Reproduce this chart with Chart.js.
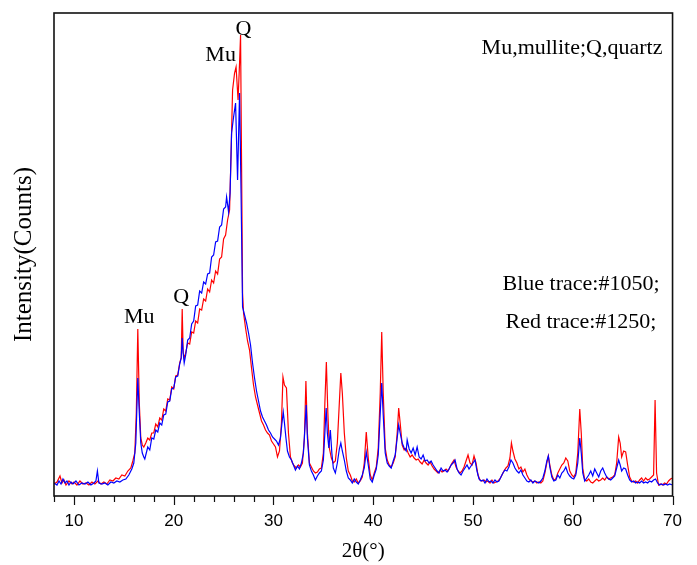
<!DOCTYPE html>
<html>
<head>
<meta charset="utf-8">
<title>XRD pattern</title>
<script src="https://cdn.jsdelivr.net/npm/chart.js@4.4.1/dist/chart.umd.min.js"></script>
<style>
  body { margin: 0; background: #fff; }
  #xrdChart { display: block; }
</style>
</head>
<body>
<canvas id="xrdChart" width="697" height="565"></canvas>
<script>
// 2theta (deg) and intensity
const redAngle = [
  8.0, 8.3, 8.6, 8.8, 9.0, 9.2, 9.5, 9.8, 10.0, 10.3,
  10.6, 10.9, 11.2, 11.5, 11.8, 12.1, 12.4, 12.7, 13.0, 13.3,
  13.6, 13.9, 14.2, 14.5, 14.8, 15.1, 15.4, 15.7, 15.9, 16.1,
  16.25, 16.4, 16.55, 16.7, 16.85, 17.0, 17.2, 17.4, 17.6, 17.8,
  18.0, 18.2, 18.4, 18.6, 18.8, 19.0, 19.2, 19.4, 19.6, 19.8,
  20.0, 20.2, 20.4, 20.6, 20.75, 20.85, 20.95, 21.05, 21.2, 21.4,
  21.6, 21.8, 22.0, 22.2, 22.4, 22.6, 22.8, 23.0, 23.2, 23.4,
  23.6, 23.8, 24.0, 24.2, 24.4, 24.6, 24.8, 25.0, 25.2, 25.4,
  25.6, 25.75, 25.9, 26.1, 26.25, 26.45, 26.6, 26.7, 26.8, 26.9,
  27.0, 27.2, 27.4, 27.6, 27.8, 28.0, 28.2, 28.4, 28.6, 28.8,
  29.0, 29.2, 29.4, 29.6, 29.8, 30.0, 30.2, 30.4, 30.6, 30.8,
  30.95, 31.1, 31.3, 31.5, 31.7, 31.9, 32.1, 32.3, 32.5, 32.7,
  32.9, 33.1, 33.25, 33.4, 33.6, 33.8, 34.0, 34.2, 34.4, 34.6,
  34.8, 35.0, 35.15, 35.3, 35.45, 35.6, 35.8, 36.0, 36.2, 36.4,
  36.6, 36.75, 36.9, 37.1, 37.3, 37.5, 37.7, 37.9, 38.1, 38.3,
  38.5, 38.7, 38.9, 39.1, 39.3, 39.5, 39.7, 39.9, 40.1, 40.3,
  40.5, 40.7, 40.85, 41.0, 41.2, 41.4, 41.6, 41.8, 42.0, 42.2,
  42.4, 42.55, 42.7, 42.9, 43.1, 43.3, 43.5, 43.7, 43.9, 44.1,
  44.3, 44.5, 44.7, 44.9, 45.1, 45.3, 45.5, 45.7, 45.9, 46.1,
  46.3, 46.5, 46.7, 46.9, 47.1, 47.3, 47.5, 47.7, 47.9, 48.1,
  48.3, 48.5, 48.7, 48.9, 49.1, 49.3, 49.5, 49.7, 49.9, 50.1,
  50.3, 50.5, 50.7, 50.9, 51.1, 51.3, 51.5, 51.7, 51.9, 52.1,
  52.3, 52.5, 52.7, 52.9, 53.1, 53.3, 53.5, 53.7, 53.85, 54.0,
  54.2, 54.4, 54.6, 54.8, 55.0, 55.2, 55.4, 55.6, 55.8, 56.0,
  56.2, 56.4, 56.6, 56.8, 57.0, 57.2, 57.4, 57.55, 57.7, 57.9,
  58.1, 58.3, 58.5, 58.7, 58.9, 59.1, 59.3, 59.5, 59.7, 59.9,
  60.1, 60.3, 60.5, 60.7, 60.85, 61.0, 61.2, 61.4, 61.6, 61.8,
  62.0, 62.2, 62.4, 62.6, 62.8, 63.0, 63.2, 63.4, 63.6, 63.8,
  64.0, 64.2, 64.4, 64.6, 64.75, 64.9, 65.1, 65.3, 65.5, 65.7,
  65.9, 66.1, 66.3, 66.5, 66.7, 66.9, 67.1, 67.3, 67.5, 67.7,
  67.9, 68.1, 68.25, 68.4, 68.6, 68.8, 69.0, 69.2, 69.4, 69.6,
  69.8, 70.0
];
const redCounts = [
  9, 11, 17, 10, 13, 8, 12, 9, 11, 8,
  12, 9, 10, 8, 11, 9, 12, 9, 11, 9,
  13, 12, 15, 14, 18, 17, 22, 25, 32, 40,
  80, 164, 90, 55, 48, 46, 50, 55, 53, 60,
  60, 69, 66, 75, 73, 84, 82, 94, 93, 106,
  104, 117, 118, 130, 135, 184, 140, 135, 140, 150,
  149, 161, 160, 172, 170, 184, 183, 194, 192, 204,
  201, 213, 210, 222, 219, 234, 236, 254, 258, 273,
  283, 340, 403, 420, 426, 393, 430, 458, 330, 200,
  180, 165, 152, 143, 125, 108, 96, 88, 80, 72,
  68, 63, 60, 58, 52, 49, 46, 36, 42, 70,
  116, 108, 105, 60, 36, 30, 27, 25, 28, 26,
  30, 55, 112, 60, 30, 26, 22, 20, 21, 24,
  25, 40, 90, 131, 80, 45, 35, 30, 32, 50,
  90, 120, 100, 60, 35, 22, 18, 12, 11, 14,
  10, 12, 16, 30, 61, 35, 18, 13, 20, 26,
  45, 100, 161, 100, 45, 33, 28, 26, 30, 36,
  60, 85, 70, 48, 43, 45, 40, 36, 38, 35,
  33, 34, 31, 29, 33, 30, 28, 31, 27, 24,
  22, 20, 23, 21, 22, 24, 22, 26, 30, 33,
  26, 22, 20, 22, 26, 32, 38, 30, 28, 37,
  30, 18, 13, 12, 13, 11, 12, 10, 13, 10,
  11, 12, 14, 18, 22, 25, 27, 35, 50, 42,
  34, 30, 24, 26, 21, 24, 18, 14, 12, 11,
  12, 10, 11, 10, 12, 20, 30, 37, 28, 18,
  13, 14, 20, 24, 28, 30, 35, 32, 22, 18,
  16, 20, 40, 84, 60, 25, 13, 12, 14, 11,
  10, 12, 14, 12, 13, 15, 13, 16, 14, 15,
  16, 18, 30, 56, 50, 36, 42, 41, 28, 16,
  12, 11, 12, 10, 13, 15, 12, 15, 13, 14,
  16, 18, 93, 20, 8, 9, 8, 10, 9, 12,
  14, 15
];

const blueAngle = [
  8.0, 8.3, 8.5, 8.7, 8.9, 9.1, 9.3, 9.5, 9.7, 9.9,
  10.2, 10.5, 10.8, 11.1, 11.4, 11.7, 12.0, 12.2, 12.35, 12.5,
  12.8, 13.1, 13.4, 13.7, 14.0, 14.3, 14.6, 14.9, 15.2, 15.5,
  15.8, 16.0, 16.2, 16.4, 16.55, 16.7, 16.85, 17.0, 17.1, 17.25,
  17.4, 17.6, 17.8, 18.0, 18.2, 18.4, 18.6, 18.8, 19.0, 19.2,
  19.4, 19.6, 19.8, 20.0, 20.2, 20.4, 20.6, 20.75, 20.85, 20.95,
  21.05, 21.2, 21.4, 21.6, 21.8, 22.0, 22.2, 22.4, 22.6, 22.8,
  23.0, 23.2, 23.4, 23.6, 23.8, 24.0, 24.2, 24.4, 24.6, 24.8,
  25.0, 25.2, 25.3, 25.5, 25.65, 25.8, 26.0, 26.2, 26.4, 26.6,
  26.75, 26.9, 27.1, 27.3, 27.5, 27.7, 27.9, 28.1, 28.3, 28.5,
  28.7, 28.9, 29.1, 29.3, 29.5, 29.7, 29.9, 30.1, 30.3, 30.5,
  30.7, 30.85, 30.98, 31.1, 31.25, 31.4, 31.6, 31.8, 32.0, 32.2,
  32.4, 32.6, 32.8, 33.0, 33.15, 33.28, 33.4, 33.6, 33.8, 34.0,
  34.2, 34.4, 34.6, 34.8, 35.0, 35.15, 35.28, 35.4, 35.55, 35.7,
  35.85, 36.0, 36.2, 36.4, 36.6, 36.75, 36.9, 37.1, 37.3, 37.5,
  37.7, 37.9, 38.1, 38.3, 38.5, 38.7, 38.9, 39.1, 39.3, 39.5,
  39.7, 39.9, 40.1, 40.3, 40.5, 40.7, 40.85, 41.0, 41.2, 41.4,
  41.6, 41.8, 42.0, 42.2, 42.4, 42.55, 42.7, 42.9, 43.1, 43.3,
  43.4, 43.6, 43.8, 44.0, 44.2, 44.4, 44.6, 44.8, 45.0, 45.2,
  45.4, 45.6, 45.8, 46.0, 46.2, 46.4, 46.6, 46.8, 47.0, 47.2,
  47.4, 47.6, 47.8, 48.0, 48.2, 48.4, 48.6, 48.8, 49.0, 49.2,
  49.4, 49.6, 49.8, 50.0, 50.2, 50.4, 50.6, 50.8, 51.0, 51.2,
  51.4, 51.6, 51.8, 52.0, 52.2, 52.4, 52.6, 52.8, 53.0, 53.2,
  53.4, 53.6, 53.8, 54.0, 54.2, 54.4, 54.6, 54.8, 55.0, 55.2,
  55.4, 55.6, 55.8, 56.0, 56.2, 56.4, 56.6, 56.8, 57.0, 57.2,
  57.4, 57.55, 57.7, 57.9, 58.1, 58.3, 58.5, 58.7, 58.9, 59.1,
  59.3, 59.5, 59.7, 59.9, 60.1, 60.3, 60.5, 60.7, 60.85, 61.0,
  61.2, 61.4, 61.6, 61.8, 62.0, 62.2, 62.4, 62.6, 62.8, 63.0,
  63.2, 63.4, 63.6, 63.8, 64.0, 64.2, 64.4, 64.6, 64.75, 64.9,
  65.1, 65.3, 65.5, 65.7, 65.9, 66.1, 66.3, 66.5, 66.7, 66.9,
  67.1, 67.3, 67.5, 67.7, 67.9, 68.1, 68.3, 68.5, 68.7, 68.9,
  69.1, 69.3, 69.5, 69.7, 70.0
];
const blueCounts = [
  10, 8, 12, 9, 14, 10, 12, 8, 11, 9,
  12, 8, 10, 9, 11, 8, 10, 12, 22, 10,
  9, 10, 8, 11, 10, 12, 11, 13, 14, 18,
  24, 30, 50, 115, 80, 50, 40, 36, 34, 40,
  46, 43, 55, 54, 63, 61, 70, 68, 78, 79,
  91, 92, 104, 105, 116, 117, 129, 135, 155, 140,
  130, 138, 153, 155, 169, 172, 187, 188, 202, 200,
  211, 209, 219, 220, 236, 238, 251, 252, 266, 268,
  284, 286, 296, 281, 300, 360, 376, 390, 313, 400,
  300, 186, 178, 170, 160, 148, 130, 115, 102, 92,
  82, 76, 72, 68, 63, 60, 56, 54, 52, 48,
  55, 70, 81, 70, 55, 42, 36, 33, 28, 23,
  27, 24, 30, 40, 65, 88, 55, 28, 22, 18,
  13, 17, 20, 22, 33, 60, 85, 60, 45, 63,
  40, 25, 20, 30, 44, 50, 42, 33, 22, 15,
  13, 10, 14, 11, 9, 13, 18, 25, 41, 28,
  14, 11, 18, 24, 38, 80, 110, 78, 40, 30,
  27, 25, 32, 38, 55, 68, 60, 50, 45, 42,
  53, 44, 40, 45, 38, 46, 36, 34, 38, 32,
  33, 30, 32, 28, 25, 22, 20, 25, 22, 23,
  21, 24, 28, 30, 33, 24, 20, 18, 22, 25,
  28, 24, 27, 30, 33, 22, 14, 12, 13, 10,
  14, 11, 12, 10, 13, 11, 12, 16, 20, 23,
  22, 26, 33, 30, 25, 22, 20, 23, 18, 15,
  12, 11, 13, 10, 12, 11, 10, 12, 15, 22,
  32, 37, 26, 16, 12, 13, 18, 15, 20, 22,
  26, 20, 17, 15, 14, 18, 30, 55, 40, 20,
  12, 15, 18, 22, 17, 24, 20, 16, 22, 25,
  20, 16, 14, 13, 15, 17, 25, 33, 28, 22,
  25, 24, 18, 13, 11, 12, 10, 11, 10, 12,
  10, 11, 10, 12, 11, 13, 14, 10, 8, 9,
  8, 9, 8, 9, 8
];

const xTicks = [10, 20, 30, 40, 50, 60, 70];

// peak labels: [text, 2theta, height]
const peakLabels = [
  ['Mu', 16.55, 176],
  ['Q', 20.75, 196],
  ['Mu', 24.7, 438],
  ['Q', 27.0, 464]
];

const notes = [
  ['Mu,mullite;Q,quartz', 572, 48],
  ['Blue trace:#1050;', 581, 284],
  ['Red trace:#1250;', 581, 322]
];

function toPoints(angle, counts) {
  return angle.map((a, i) => ({ x: a, y: counts[i] }));
}

const serif = '"Liberation Serif", "Times New Roman", serif';

const framePlugin = {
  id: 'frame',
  afterDraw(chart) {
    const { ctx, chartArea: a, scales: { x, y } } = chart;
    ctx.save();
    ctx.strokeStyle = '#111';
    ctx.lineWidth = 1.6;
    ctx.strokeRect(a.left, a.top, a.right - a.left, a.bottom - a.top);

    // tick marks, longer on the labelled ones
    ctx.lineWidth = 1.2;
    x.ticks.forEach(t => {
      const px = Math.round(x.getPixelForValue(t.value)) + 0.5;
      const len = xTicks.includes(t.value) ? 9 : 6;
      ctx.beginPath();
      ctx.moveTo(px, a.bottom);
      ctx.lineTo(px, a.bottom + len);
      ctx.stroke();
    });

    ctx.fillStyle = '#000';
    ctx.textAlign = 'center';
    ctx.textBaseline = 'middle';
    ctx.font = '21px ' + serif;
    ctx.fillText('2θ(°)', (a.left + a.right) / 2, 551);

    ctx.save();
    ctx.font = '25px ' + serif;
    ctx.translate(24, (a.top + a.bottom) / 2);
    ctx.rotate(-Math.PI / 2);
    ctx.fillText('Intensity(Counts)', 0, 0);
    ctx.restore();

    ctx.font = '22px ' + serif;
    peakLabels.forEach(([text, ang, h]) => {
      ctx.fillText(text, x.getPixelForValue(ang), y.getPixelForValue(h));
    });
    notes.forEach(([text, px, py]) => ctx.fillText(text, px, py));
    ctx.restore();
  }
};

document.addEventListener("DOMContentLoaded", () => {
  const ctx = document.getElementById('xrdChart').getContext('2d');
  new Chart(ctx, {
    type: 'line',
    data: {
      datasets: [
        {
          label: '#1050',
          data: toPoints(blueAngle, blueCounts),
          borderColor: '#0000ff',
          borderWidth: 1.2,
          pointRadius: 0,
          order: 0
        },
        {
          label: '#1250',
          data: toPoints(redAngle, redCounts),
          borderColor: '#ff0000',
          borderWidth: 1.2,
          pointRadius: 0,
          order: 1
        }
      ]
    },
    options: {
      responsive: false,
      animation: false,
      layout: { padding: { left: 54, top: 13, right: 11 } },
      plugins: {
        legend: { display: false },
        tooltip: { enabled: false }
      },
      scales: {
        x: {
          type: 'linear',
          min: 8,
          max: 70,
          grid: { display: false, drawTicks: false },
          border: { display: false },
          ticks: {
            stepSize: 2,
            autoSkip: false,
            maxRotation: 0,
            padding: 15,
            color: '#000',
            font: { family: '"Liberation Sans", Arial, sans-serif', size: 17 },
            callback: v => (xTicks.includes(v) ? v : '')
          },
          afterFit: scale => { scale.height = 69; }
        },
        y: {
          display: false,
          min: -3,
          max: 480
        }
      }
    },
    plugins: [framePlugin]
  });
});
</script>
</body>
</html>
